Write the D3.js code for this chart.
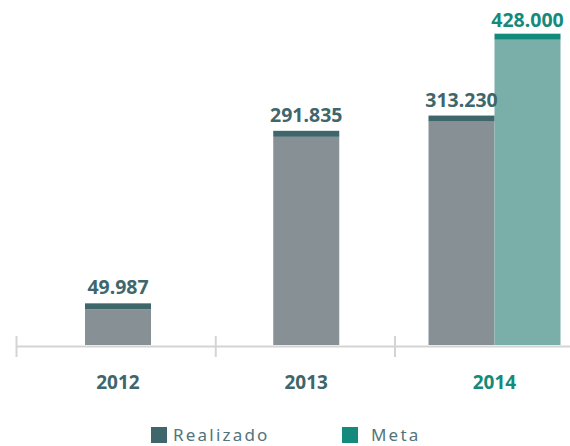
<!DOCTYPE html>
<html>
<head>
<meta charset="utf-8">
<script src="https://cdn.jsdelivr.net/npm/d3@7"></script>
<style>
  html, body { margin: 0; padding: 0; background: #ffffff; }
  svg { display: block; }
</style>
</head>
<body>
<svg id="chart" width="570" height="446"></svg>
<script>
const years = ['2012', '2013', '2014'];
const realizado = [49987, 291835, 313230];
const meta = [null, null, 428000];
const seriesNames = ['Realizado', 'Meta'];

const W = 570, H = 446;
const baseY = 345;
const barW = 66;
const capH = 6;

const colors = {
  realBody: '#879195', realCap: '#3e666b',
  metaBody: '#7aaea8', metaCap: '#138a7b',
  axis: '#d4d4d4', darkText: '#3e666b', metaText: '#158a7b', legendText: '#52747a'
};

const svg = d3.select('#chart');
const fmt = d3.formatLocale({ decimal: ',', thousands: '.', grouping: [3], currency: ['R$', ''] }).format(',d');

const x = d3.scalePoint().domain(years).range([118, 494.5]);
const y = d3.scaleLinear().domain([0, 450000]).range([baseY, 24]);

// build bar records
const bars = [];
years.forEach((yr, i) => {
  const hasMeta = meta[i] != null;
  const cx = x(yr);
  bars.push({ yr, series: 'Realizado', value: realizado[i], x0: hasMeta ? cx - barW : cx - barW / 2 });
  if (hasMeta) bars.push({ yr, series: 'Meta', value: meta[i], x0: cx });
});

// axis line
svg.append('line')
  .attr('x1', x(years[0]) - 102).attr('x2', W)
  .attr('y1', baseY + 1.5).attr('y2', baseY + 1.5)
  .attr('stroke', colors.axis).attr('stroke-width', 2.2);

// ticks
svg.selectAll('line.tick').data(years).enter().append('line')
  .attr('class', 'tick')
  .attr('x1', (d, i) => x(d) - [102, 91, 100][i] + 0.5)
  .attr('x2', (d, i) => x(d) - [102, 91, 100][i] + 0.5)
  .attr('y1', baseY - 9).attr('y2', baseY + 12)
  .attr('stroke', colors.axis).attr('stroke-width', 2);

// bar bodies
svg.selectAll('rect.body').data(bars).enter().append('rect')
  .attr('x', d => d.x0).attr('width', barW)
  .attr('y', d => y(d.value)).attr('height', d => baseY - y(d.value))
  .attr('fill', d => d.series === 'Meta' ? colors.metaBody : colors.realBody);

// caps
svg.selectAll('rect.cap').data(bars).enter().append('rect')
  .attr('x', d => d.x0).attr('width', barW)
  .attr('y', d => y(d.value) - capH).attr('height', capH)
  .attr('fill', d => d.series === 'Meta' ? colors.metaCap : colors.realCap);

// value labels
svg.selectAll('text.val').data(bars).enter().append('text')
  .attr('x', d => d.x0 + barW / 2)
  .attr('y', d => y(d.value) - capH - (d.series === 'Meta' ? 7 : 9))
  .attr('text-anchor', 'middle')
  .attr('font-family', "'Noto Sans', sans-serif")
  .attr('font-weight', 'bold')
  .attr('font-size', '19.5px')
  .attr('fill', d => d.series === 'Meta' ? colors.metaText : colors.darkText)
  .text(d => fmt(d.value));

// year labels
svg.selectAll('text.yr').data(years).enter().append('text')
  .attr('x', d => x(d))
  .attr('y', 389)
  .attr('text-anchor', 'middle')
  .attr('font-family', "'Noto Sans', sans-serif")
  .attr('font-weight', 'bold')
  .attr('font-size', '19px')
  .attr('fill', (d, i) => meta[i] != null ? colors.metaText : colors.darkText)
  .text(d => d);

// legend
const legendX = [151, 342];
const leg = svg.selectAll('g.leg').data(seriesNames).enter().append('g')
  .attr('transform', (d, i) => `translate(${legendX[i]},427)`);
leg.append('rect')
  .attr('width', 16).attr('height', 16)
  .attr('fill', d => d === 'Meta' ? colors.metaCap : colors.realCap);
leg.append('text')
  .attr('x', (d, i) => i === 0 ? 22 : 29)
  .attr('y', 14)
  .attr('font-family', "'Noto Sans', sans-serif")
  .attr('font-size', '17px')
  .attr('letter-spacing', '2.2px')
  .attr('fill', colors.legendText)
  .text(d => d);
</script>
</body>
</html>
